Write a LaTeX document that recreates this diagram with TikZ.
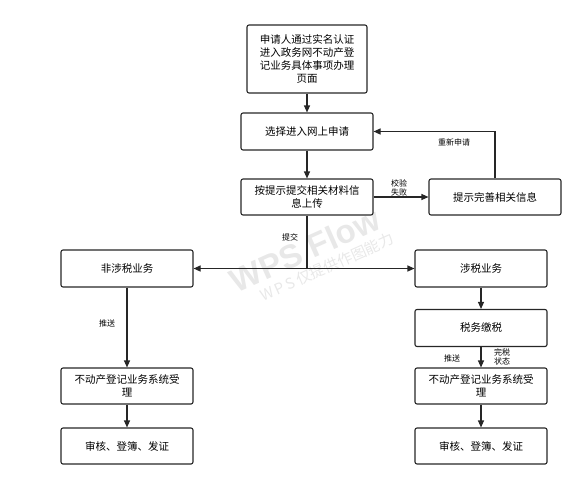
\documentclass[tikz,border=0pt]{standalone}
\usepackage{fontspec}
\setmainfont{Liberation Sans}
\newfontfamily\cjk{Noto Sans CJK SC}
\usetikzlibrary{arrows.meta}
\tikzset{
  box/.style={draw=black!85, line width=1.1pt, rounded corners=2pt, align=center, font=\cjk\fontsize{10.5}{13}\selectfont, inner sep=2pt},
  conn/.style={draw=black!85, line width=1.1pt, -{Triangle[length=7pt,width=6pt]}},
  plain/.style={draw=black!85, line width=1.1pt},
  lbl/.style={font=\cjk\fontsize{8}{9}\selectfont, align=center, inner sep=1pt},
  wmark/.style={rotate=24, text=black!9, inner sep=0pt}
}
\begin{document}
\begin{tikzpicture}[x=1pt,y=-1pt]
\useasboundingbox (0,0) rectangle (584,483);
% watermark
\node[wmark, font=\bfseries\fontsize{33}{33}\selectfont] (wm1) at (305,250) {WPS Flow};
\node[wmark, font=\cjk\fontsize{15}{15}\selectfont] (wm2) at (327,267) {W\,P\,S\,仅提供作图能力};
% nodes
\node[box, minimum width=120pt, minimum height=68pt] (a) at (307,59) {申请人通过实名认证\\进入政务网不动产登\\记业务具体事项办理\\页面};
\node[box, minimum width=132pt, minimum height=37pt] (b) at (307,131.5) {选择进入网上申请};
\node[box, minimum width=132pt, minimum height=36pt] (c) at (307,197) {按提示提交相关材料信\\息上传};
\node[box, minimum width=132pt, minimum height=36pt] (d) at (495,197) {提示完善相关信息};
\node[box, minimum width=132pt, minimum height=37pt] (e) at (127,268.5) {非涉税业务};
\node[box, minimum width=132pt, minimum height=37pt] (f) at (481,268.5) {涉税业务};
\node[box, minimum width=132pt, minimum height=37pt] (g) at (481,328) {税务缴税};
\node[box, minimum width=132pt, minimum height=36pt] (h) at (127,386) {不动产登记业务系统受\\理};
\node[box, minimum width=132pt, minimum height=36pt] (i) at (481,386) {不动产登记业务系统受\\理};
\node[box, minimum width=132pt, minimum height=36pt] (j) at (127,446) {审核、登簿、发证};
\node[box, minimum width=132pt, minimum height=36pt] (k) at (481,446) {审核、登簿、发证};
\coordinate (split) at (307,268.5);
% connectors
\draw[conn] (a) -- (b);
\draw[conn] (b) -- (c);
\draw[conn] (c) -- (d);
\draw[conn] (d.north) |- (b.east);
\draw[plain] (c.south) -- (split);
\draw[conn] (split) -- (e.east);
\draw[conn] (split) -- (f.west);
\draw[conn] (e) -- (h);
\draw[conn] (f) -- (g);
\draw[conn] (g) -- (i);
\draw[conn] (h) -- (j);
\draw[conn] (i) -- (k);
% labels
\node[lbl] (l1) at (399,188) {校验\\失败};
\node[lbl] (l2) at (454,142) {重新申请};
\node[lbl] (l3) at (290,237) {提交};
\node[lbl] (l4) at (107,323) {推送};
\node[lbl] (l5) at (452,358) {推送};
\node[lbl] (l6) at (502,357) {完税\\状态};
\end{tikzpicture}
\end{document}
